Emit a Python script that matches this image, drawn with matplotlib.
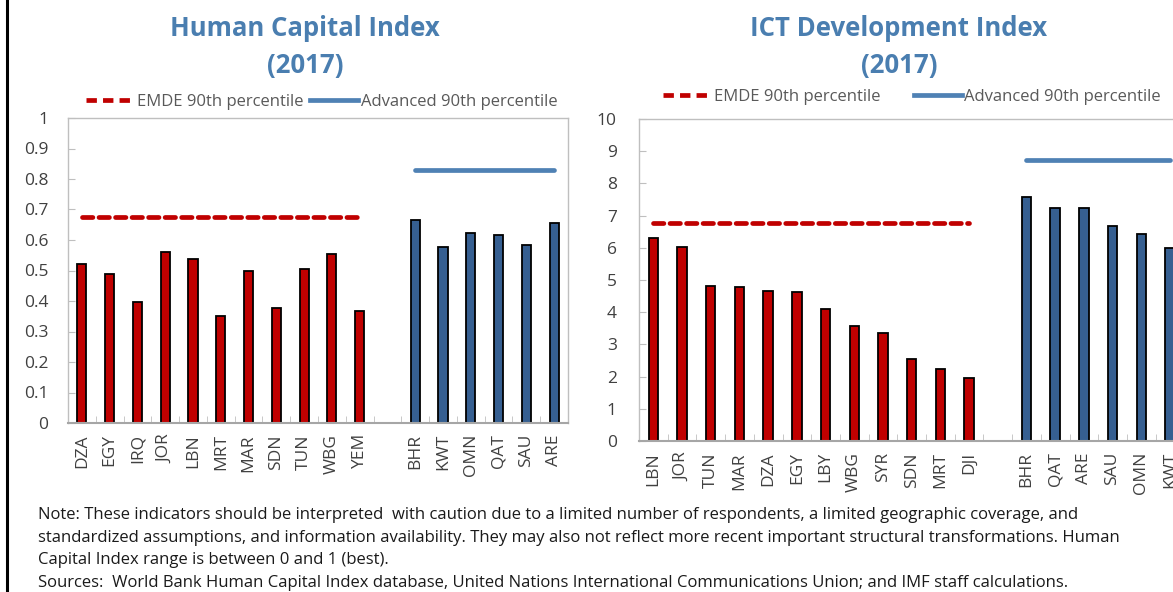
import numpy as np
import matplotlib
matplotlib.use("Agg")
import matplotlib.pyplot as plt
from matplotlib.lines import Line2D

plt.rcParams['font.family'] = ['Open Sans', 'DejaVu Sans']

# Human Capital Index (2017)
hci_emde = ['DZA', 'EGY', 'IRQ', 'JOR', 'LBN', 'MRT', 'MAR', 'SDN', 'TUN', 'WBG', 'YEM']
hci_emde_val = [0.522, 0.487, 0.397, 0.561, 0.538, 0.351, 0.499, 0.377, 0.505, 0.554, 0.368]
hci_adv = ['BHR', 'KWT', 'OMN', 'QAT', 'SAU', 'ARE']
hci_adv_val = [0.667, 0.577, 0.622, 0.615, 0.584, 0.657]
hci_emde_p90 = 0.675
hci_adv_p90 = 0.831

# ICT Development Index (2017)
ict_emde = ['LBN', 'JOR', 'TUN', 'MAR', 'DZA', 'EGY', 'LBY', 'WBG', 'SYR', 'SDN', 'MRT', 'DJI']
ict_emde_val = [6.31, 6.01, 4.81, 4.78, 4.66, 4.64, 4.11, 3.56, 3.34, 2.55, 2.24, 1.97]
ict_adv = ['BHR', 'QAT', 'ARE', 'SAU', 'OMN', 'KWT']
ict_adv_val = [7.59, 7.23, 7.23, 6.68, 6.43, 5.98]
ict_emde_p90 = 6.78
ict_adv_p90 = 8.72

RED = '#c00000'
BLUE = '#365f91'
LBLUE = '#4f81b4'
TXT = '#404040'
GRID = '#bfbfbf'

W, H = 1173, 592
fig = plt.figure(figsize=(W / 100, H / 100), dpi=100)


def px(x0, y_top, x1, y_bot):
    return [x0 / W, 1 - y_bot / H, (x1 - x0) / W, (y_bot - y_top) / H]


def panel(rect, emde, emde_val, adv, adv_val, p_emde, p_adv, ymax, ystep, fmt, title, tx,
          ypad, legx, legy, colsp):
    ax = fig.add_axes(rect)
    n_e = len(emde)
    xe = np.arange(n_e)
    xa = np.arange(len(adv)) + n_e + 1
    n = n_e + 1 + len(adv)
    ax.bar(xe, emde_val, width=0.33, color=RED, edgecolor='black', linewidth=1.3, zorder=2)
    ax.bar(xa, adv_val, width=0.33, color=BLUE, edgecolor='black', linewidth=1.3, zorder=2)
    ax.hlines(p_emde, xe[0], xe[-1], colors=RED, linestyles=(0, (2.2, 1.3)), linewidth=3.4,
              capstyle='round', zorder=3)
    ax.hlines(p_adv, xa[0], xa[-1], colors=LBLUE, linewidth=3.4, capstyle='round', zorder=3)
    ax.set_xlim(-0.5, n - 0.5)
    ax.set_ylim(0, ymax)
    ticks = np.arange(0, ymax + ystep / 2, ystep)
    ax.set_yticks(ticks)
    ax.set_yticklabels([fmt(t) for t in ticks])
    ax.set_xticks(list(xe) + list(xa))
    ax.set_xticklabels(emde + adv, rotation=90)
    ax.set_xticks(np.arange(0.5, n - 1, 1), minor=True)
    ax.tick_params(axis='x', which='major', length=0, pad=8, labelsize=12.5, labelcolor=TXT)
    ax.tick_params(axis='x', which='minor', direction='in', length=5, color=GRID)
    ax.tick_params(axis='y', direction='in', length=5, color=GRID, pad=ypad, labelsize=12.5,
                   labelcolor=TXT)
    for s in ax.spines.values():
        s.set_color(GRID)
        s.set_linewidth(1)
    ax.spines['bottom'].set_color('#a6a6a6')
    ax.spines['bottom'].set_linewidth(1.5)
    fig.text(tx / W, 1 - 28 / H, title, ha='center', va='center', fontsize=18.5,
             fontweight='bold', color='#4a7eb0')
    fig.text(tx / W, 1 - 65 / H, '(2017)', ha='center', va='center', fontsize=18.5,
             fontweight='bold', color='#4a7eb0')
    handles = [Line2D([], [], color=RED, lw=3.4, linestyle=(0, (2.2, 1.3))),
               Line2D([], [], color=LBLUE, lw=3.4)]
    leg = fig.legend(handles, ['EMDE 90th percentile', 'Advanced 90th percentile'],
                     loc='center left', bbox_to_anchor=(legx / W, 1 - legy / H), ncol=2,
                     frameon=False, fontsize=12, handlelength=2.9, handletextpad=0.15,
                     columnspacing=colsp, borderaxespad=0, borderpad=0)
    for t in leg.get_texts():
        t.set_color('#595959')
    return ax


panel(px(68, 118, 568, 423), hci_emde, hci_emde_val, hci_adv, hci_adv_val,
      hci_emde_p90, hci_adv_p90, 1.0, 0.1,
      lambda t: '0' if t == 0 else ('1' if abs(t - 1) < 1e-9 else f'{t:.1f}'),
      'Human Capital Index', 305, 14, 86, 102, 0.4)
panel(px(639, 119, 639 + 19 * 28.7, 441), ict_emde, ict_emde_val, ict_adv, ict_adv_val,
      ict_emde_p90, ict_adv_p90, 10, 1, lambda t: f'{t:.0f}',
      'ICT Development Index', 899, 16, 663, 97, 2.0)

notes = [
    'Note: These indicators should be interpreted  with caution due to a limited number of respondents, a limited geographic coverage, and',
    'standardized assumptions, and information availability. They may also not reflect more recent important structural transformations. Human',
    'Capital Index range is between 0 and 1 (best).',
    'Sources:  World Bank Human Capital Index database, United Nations International Communications Union; and IMF staff calculations.',
]
for i, line in enumerate(notes):
    fig.text(38 / W, 1 - (515 + i * 22.7) / H, line, ha='left', va='center', fontsize=12,
             color='#1a1a1a')

fig.add_artist(Line2D([6.5 / W, 6.5 / W], [0, 1], color='black', lw=2.2))

fig.savefig('out.png', dpi=100)
